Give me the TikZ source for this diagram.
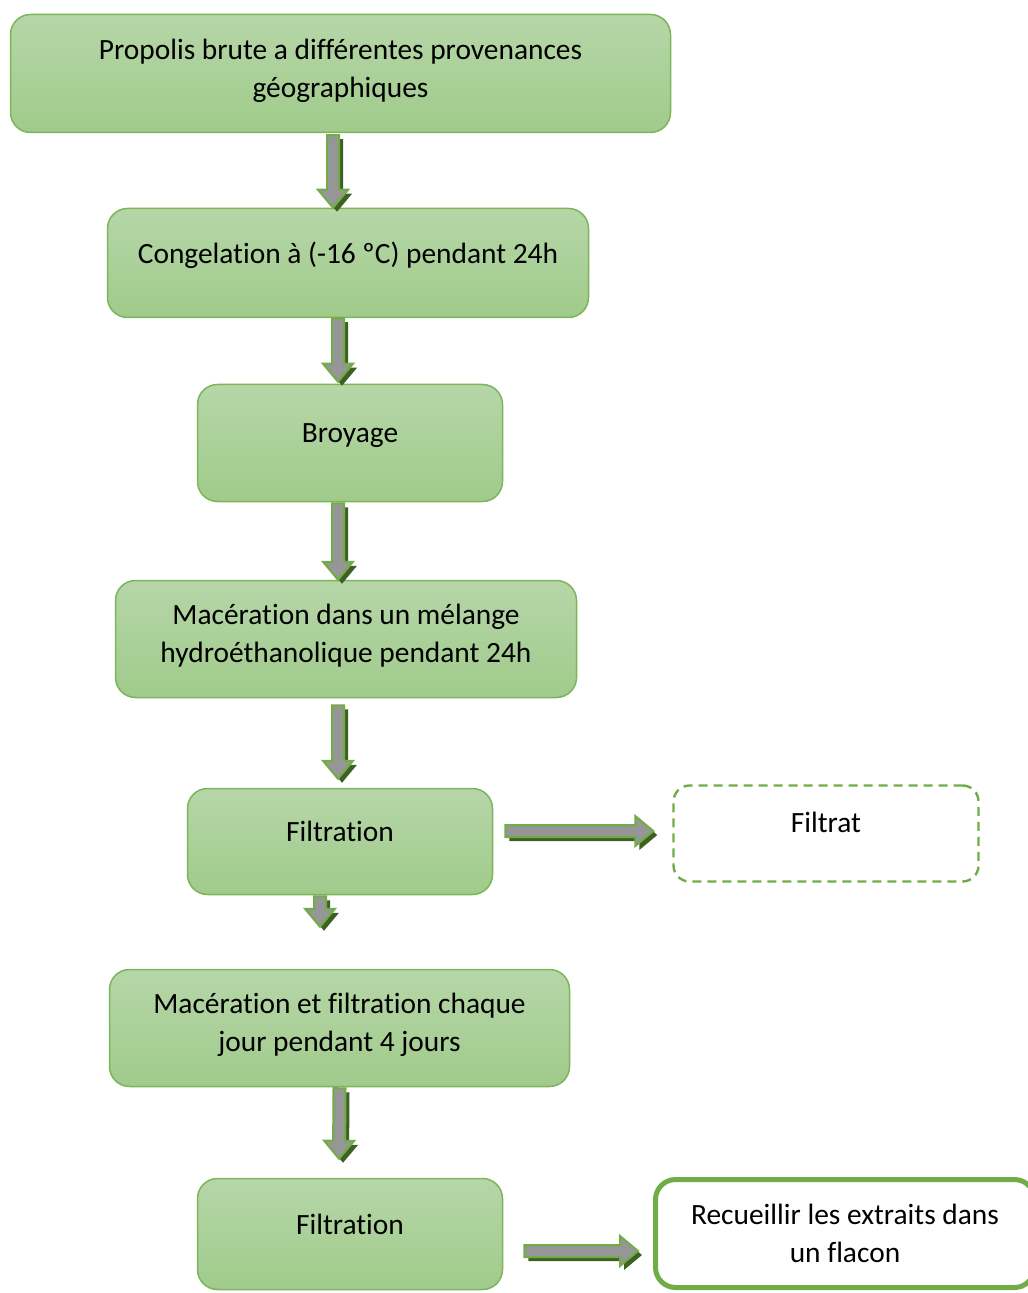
\documentclass[tikz,border=0pt]{standalone}
\usepackage{fontspec}
\setmainfont{Carlito}[Ligatures=NoCommon]
\usetikzlibrary{calc}

\definecolor{boxtop}{RGB}{182,214,168}
\definecolor{boxbot}{RGB}{160,203,139}
\definecolor{boxline}{RGB}{125,181,90}
\definecolor{arrline}{RGB}{112,173,71}
\definecolor{arrgray}{RGB}{150,150,150}
\definecolor{arrshade}{RGB}{62,96,36}

\newcommand{\lift}[1]{\rule[-#1]{0pt}{#1}}

\tikzset{
  stepbox/.style={draw=boxline, line width=0.75pt, rounded corners=10pt,
    top color=boxtop, bottom color=boxbot, align=center,
    font=\fontsize{14.7}{19}\selectfont},
  sidebox/.style={draw=arrline, line width=1.2pt, dash pattern=on 4.5pt off 3pt,
    rounded corners=8pt, fill=white, align=center,
    font=\fontsize{14.7}{19}\selectfont},
  endbox/.style={draw=arrline, line width=2.5pt, rounded corners=10pt,
    fill=white, align=center, font=\fontsize{14.7}{19}\selectfont},
  blockarrow/.style={draw=arrline, line width=1pt, fill=arrgray, line join=miter,
    preaction={fill=arrshade, transform canvas={shift={(2pt,-2pt)}}},
    to path={
      let \p0=(\tikztostart), \p2=(\tikztotarget),
          \p1=($(\p2)!9pt!(\p0)$) in
      ($(\p0)!3pt!90:(\p2)$)
      -- ($(\p1)!3pt!90:(\p2)$)
      -- ($(\p1)!7.5pt!90:(\p2)$)
      -- (\p2)
      -- ($(\p1)!7.5pt!-90:(\p2)$)
      -- ($(\p1)!3pt!-90:(\p2)$)
      -- ($(\p0)!3pt!-90:(\p2)$)
      -- cycle}}
}

\begin{document}
\begin{tikzpicture}[x=0.5pt, y=-0.5pt]
  \useasboundingbox (0,0) rectangle (1027,1293);

  % steps of the extraction
  \node[stepbox, minimum width=330pt, minimum height=59pt] (propolis) at (340.5,73.5)
    {Propolis brute a différentes provenances\\géographiques\lift{5.5pt}};
  \node[stepbox, minimum width=240.5pt, minimum height=54.5pt] (congel) at (348,263)
    {Congelation à (-16 ºC) pendant 24h\lift{10pt}};
  \node[stepbox, minimum width=152.5pt, minimum height=58.5pt] (broyage) at (350,443)
    {Broyage\lift{10pt}};
  \node[stepbox, minimum width=230.5pt, minimum height=58.5pt] (macer) at (346,639)
    {Macération dans un mélange\\hydroéthanolique pendant 24h\lift{5.5pt}};
  \node[stepbox, minimum width=152.5pt, minimum height=53pt] (filtr1) at (340,841.5)
    {Filtration\lift{10pt}};
  \node[stepbox, minimum width=230pt, minimum height=58.5pt] (macfil) at (339.5,1028)
    {Macération et filtration chaque\\jour pendant 4 jours\lift{5.5pt}};
  \node[stepbox, minimum width=152.5pt, minimum height=55.5pt] (filtr2) at (350,1234)
    {Filtration\lift{10pt}};

  % side outputs
  \node[sidebox, minimum width=152.5pt, minimum height=48pt] (filtrat) at (826,833.5)
    {Filtrat\lift{11pt}};
  \node[endbox, minimum width=189.5pt, minimum height=54pt] (recueil) at (845,1233.5)
    {Recueillir les extraits dans\\un flacon};

  % block arrows
  \draw[blockarrow] ($(propolis.south)+(-7.5,2)$) to ($(congel.north)+(-15,0)$);
  \draw[blockarrow] ($(congel.south)+(-10,0)$) to ($(broyage.north)+(-12,-2)$);
  \draw[blockarrow] ($(broyage.south)+(-12,1)$) to ($(macer.north)+(-8,0)$);
  \draw[blockarrow] ($(macer.south)+(-8,7)$) to ($(filtr1.north)+(-2,-9)$);
  \draw[blockarrow] ($(filtr1.south)+(-20,1)$) to ($(macfil.north)+(-19.5,-42)$);
  \draw[blockarrow] ($(macfil.south)+(0,1)$) to ($(filtr2.north)+(-11,-19)$);
  \draw[blockarrow] ($(filtr1.east)+(12,-10.5)$) to ($(filtrat.west)+(-19,-2.5)$);
  \draw[blockarrow] ($(filtr2.east)+(21,17)$) to ($(recueil.west)+(-15,17.5)$);
\end{tikzpicture}
\end{document}
